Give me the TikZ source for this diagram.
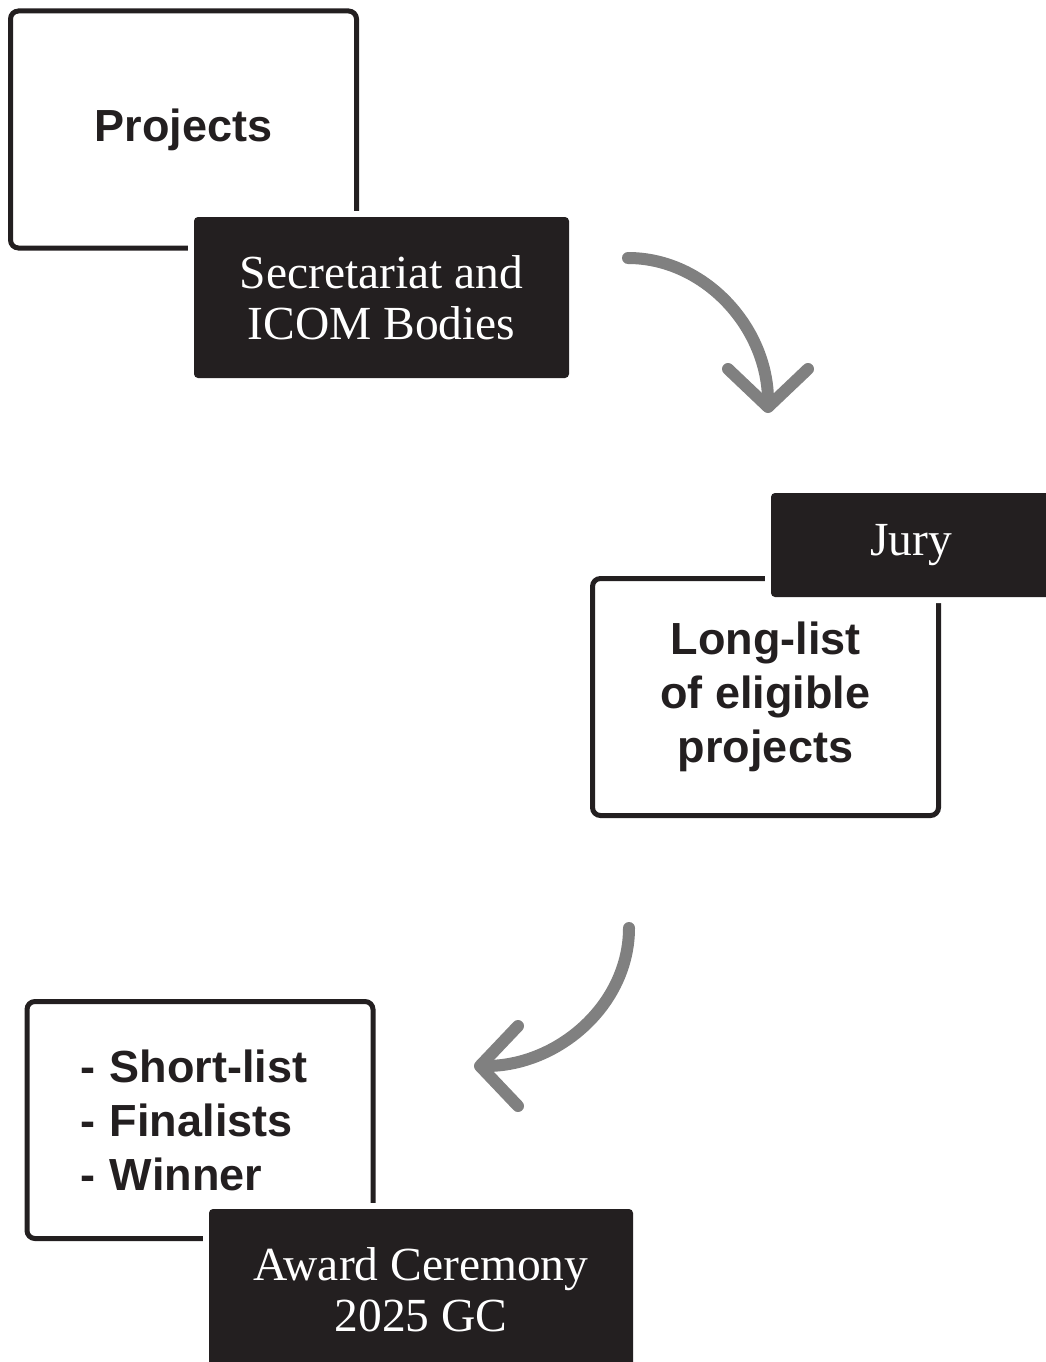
\documentclass[tikz,border=0pt]{standalone}
\usepackage{fontspec}
\setmainfont{Liberation Serif}
\newfontfamily\headfont{Liberation Sans}
\usetikzlibrary{arrows.meta}
\definecolor{inkblack}{HTML}{231F20}
\definecolor{arrowgray}{HTML}{808080}
\tikzstyle{stage}=[%
      rectangle, rounded corners=8pt, draw=inkblack, line width=5pt, fill=none,
      minimum width=346pt, minimum height=237pt, inner sep=0pt, outer sep=0pt,
      text=inkblack, align=center, font=\headfont\bfseries\fontsize{45}{54}\selectfont
]
\tikzstyle{tag}=[%
      rectangle, rounded corners=4pt, fill=inkblack, text=white,
      preaction={draw=white, line width=12pt},
      inner sep=0pt, outer sep=0pt, align=center, font=\fontsize{47.5}{51}\selectfont
]
\tikzstyle{flow}=[%
      draw=arrowgray, line width=12pt, line cap=round,
      -{Straight Barb[length=38pt, width=80pt, round]}
]
\begin{document}
\begin{tikzpicture}[x=1pt, y=-1pt]
    \useasboundingbox (0,0) rectangle (1046,1362);

    % white boxes first, tags cut a gap into them
    \node[stage]              (proj)  at (183.5,129.5) {Projects};
    \node[stage]              (long)  at (765.5,697)   {Long-list\\of eligible\\projects};
    \node[stage, text width=240pt, align=left]
                              (short) at (200,1120)    {- Short-list\\- Finalists\\- Winner};

    \node[tag, minimum width=375pt, minimum height=161pt] (sec)   at (381.5,297.5) {Secretariat and\\ICOM Bodies};
    \node[tag, minimum width=280pt, minimum height=104pt] (jury)  at (911,545)     {Jury};
    \node[tag, minimum width=424pt, minimum height=161pt] (award) at (421,1289.5)  {Award Ceremony\\2025 GC};

    \coordinate (c1s) at (628,258);
    \coordinate (c1e) at (768,413);
    \coordinate (c2s) at (629,928);
    \coordinate (c2e) at (474,1066);

    \draw[flow] (c1s) .. controls +(77,0) and +(0,-85) .. (c1e);
    \draw[flow] (c2s) .. controls +(0,76) and +(85,0) .. (c2e);
\end{tikzpicture}
\end{document}
